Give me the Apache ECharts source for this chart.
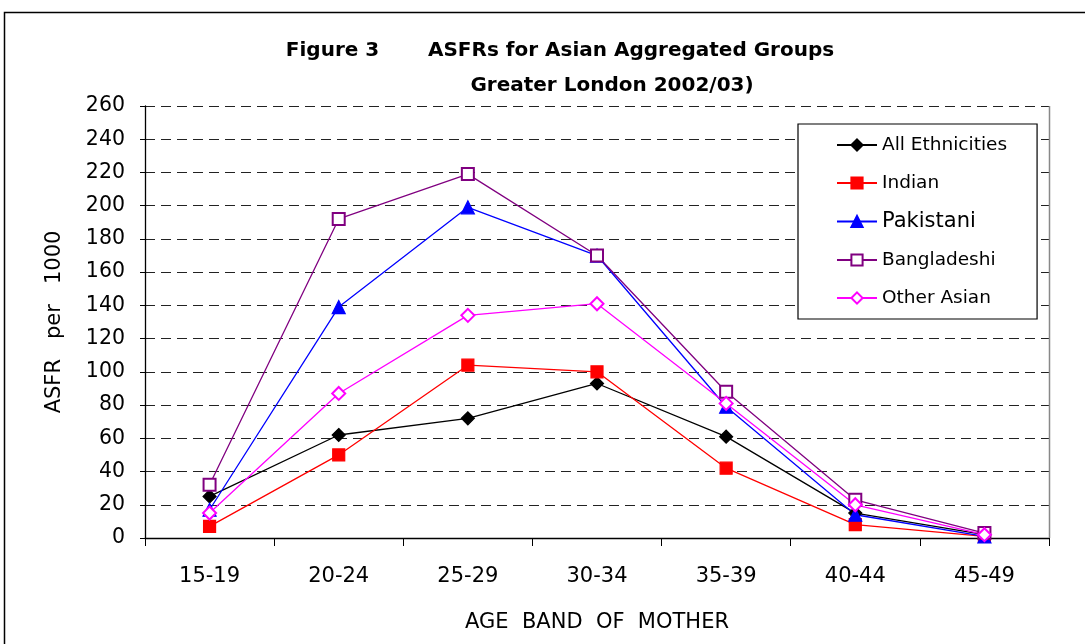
<!DOCTYPE html>
<html><head><meta charset="utf-8">
<script src="https://cdn.jsdelivr.net/npm/echarts@6/dist/echarts.min.js"></script>
<style>html,body{margin:0;padding:0;background:#fff}#c{width:1085px;height:644px}</style>
</head><body><div id="c"></div>
<script>
const categories = ['15-19','20-24','25-29','30-34','35-39','40-44','45-49'];
const allEthnicities = [25, 62, 72, 93, 61, 15, 2];
const indian = [7, 50, 104, 100, 42, 8, 1];
const pakistani = [17, 139, 199, 170, 79, 14, 1];
const bangladeshi = [32, 192, 219, 170, 88, 23, 3];
const otherAsian = [15, 87, 134, 141, 81, 20, 2];
const titleLine1 = 'Figure 3       ASFRs for Asian Aggregated Groups';
const titleLine2 = 'Greater London 2002/03)';
const yName = 'ASFR   per   1000';
const xName = 'AGE  BAND  OF  MOTHER';

const font = 'DejaVu Sans';
function mk(name, data, color, symbol, size) {
  return {
    name, type: 'line', data, symbol, symbolSize: size,
    lineStyle: { color, width: 1.3 },
    itemStyle: { color, borderColor: color, borderWidth: 1.2 },
    emphasis: { disabled: true },
    animation: false
  };
}
const chart = echarts.init(document.getElementById('c'), null, { renderer: 'canvas' });
chart.setOption({
  animation: false,
  backgroundColor: '#fff',
  title: [
    { text: titleLine1, left: 555, top: 36, textAlign: 'center',
      textStyle: { fontFamily: font, fontWeight: 'bold', fontSize: 20, color: '#000' } },
    { text: titleLine2, left: 607, top: 71, textAlign: 'center',
      textStyle: { fontFamily: font, fontWeight: 'bold', fontSize: 20, color: '#000' } }
  ],
  graphic: [
    { type: 'rect', shape: { x: 4.5, y: 12.5, width: 1100, height: 700 },
      style: { fill: null, stroke: '#000', lineWidth: 1.5 }, z: -1 },
    { type: 'line', shape: { x1: 1049.5, y1: 106, x2: 1049.5, y2: 538 },
      style: { stroke: '#888', lineWidth: 1.5 }, z: 1 }
  ],
  grid: { left: 145, right: 36, top: 106, bottom: 106, containLabel: false },
  legend: {
    orient: 'vertical', left: 798, top: 124,
    padding: [11, 30, 11, 38],
    itemWidth: 40, itemHeight: 14, itemGap: 18,
    backgroundColor: '#fff', borderColor: '#000', borderWidth: 1.2,
    textStyle: { fontFamily: font, fontSize: 18.5, color: '#000', lineHeight: 20,
      rich: { p: { fontFamily: font, fontSize: 21, color: '#000', lineHeight: 20 } } },
    formatter: function (n) { return n === 'Pakistani' ? '{p|' + n + '}' : n; },
    data: ['All Ethnicities', 'Indian', 'Pakistani', 'Bangladeshi', 'Other Asian']
  },
  xAxis: {
    type: 'category', data: categories, boundaryGap: true,
    name: xName, nameLocation: 'middle', nameGap: 74,
    nameTextStyle: { fontFamily: font, fontSize: 21, color: '#000' },
    axisLine: { lineStyle: { color: '#000', width: 1.3 } },
    axisTick: { show: true, length: 8, alignWithLabel: false, lineStyle: { color: '#000' } },
    axisLabel: { fontFamily: font, fontSize: 21, color: '#000', margin: 28 },
    splitLine: { show: false }
  },
  yAxis: {
    type: 'value', min: 0, max: 260, interval: 20,
    name: yName, nameLocation: 'middle', nameGap: 80, nameRotate: 90,
    nameTextStyle: { fontFamily: font, fontSize: 21, color: '#000' },
    axisLine: { show: true, lineStyle: { color: '#000', width: 1.3 } },
    axisTick: { show: true, length: 5, lineStyle: { color: '#000' } },
    axisLabel: { fontFamily: font, fontSize: 20.5, color: '#000', margin: 20 },
    splitLine: { show: true, lineStyle: { color: '#222', type: [10, 6], width: 1.2 } }
  },
  series: [
    mk('All Ethnicities', allEthnicities, '#000000', 'diamond', 13),
    mk('Indian', indian, '#ff0000', 'rect', 12),
    mk('Pakistani', pakistani, '#0000ff', 'triangle', 13),
    mk('Bangladeshi', bangladeshi, '#800080', 'emptyRect', 12),
    mk('Other Asian', otherAsian, '#ff00ff', 'emptyDiamond', 13)
  ]
});
</script></body></html>
